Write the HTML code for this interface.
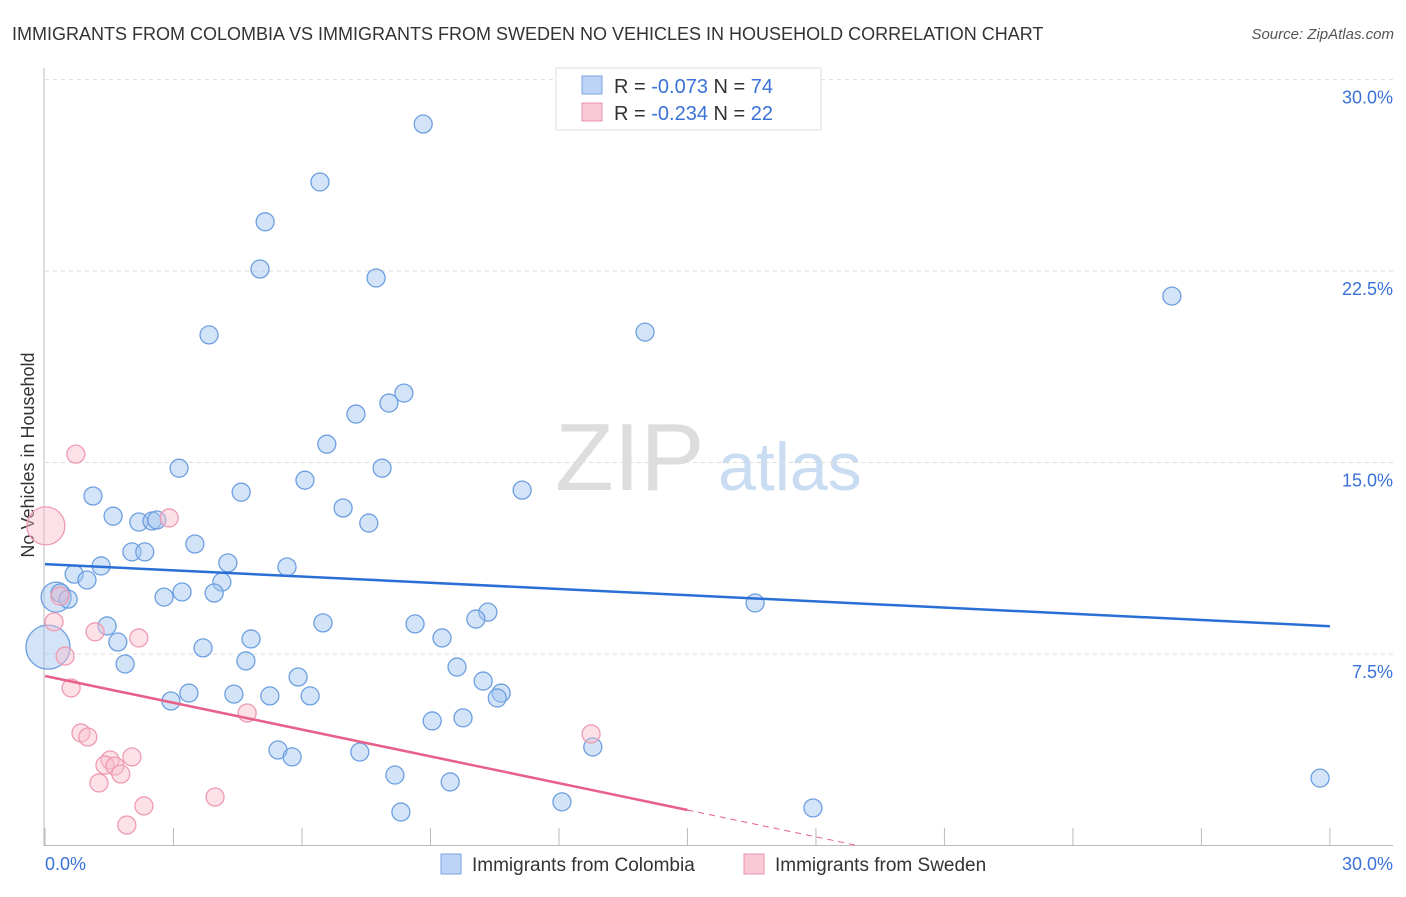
<!DOCTYPE html>
<html><head><meta charset="utf-8"><style>
body{margin:0;background:#fff;font-family:"Liberation Sans",sans-serif}
svg text{font-family:"Liberation Sans",sans-serif}
</style></head><body>
<svg id="c" width="1406" height="892">
<text x="12" y="40" font-size="18" fill="#333">IMMIGRANTS FROM COLOMBIA VS IMMIGRANTS FROM SWEDEN NO VEHICLES IN HOUSEHOLD CORRELATION CHART</text>
<text x="1394" y="39" font-size="15" fill="#555" font-style="italic" text-anchor="end">Source: ZipAtlas.com</text>
<text x="555" y="490" font-size="96" fill="#ddd" font-family="Liberation Serif">ZIP</text>
<text x="718" y="490" font-size="68" fill="#c9dcf2">atlas</text>
<text x="34" y="455" font-size="18" fill="#333" text-anchor="middle" transform="rotate(-90 34 455)">No Vehicles in Household</text>
<g id="grid"></g><g id="pts"></g><g id="lines"></g>
<g>
<rect x="556" y="68" width="265" height="62" fill="#fff" stroke="#ddd"/>
<rect x="582" y="76" width="20" height="18" fill="#bcd4f5" stroke="#7aa6e0"/>
<rect x="582" y="103" width="20" height="18" fill="#f9c9d6" stroke="#eb94ac"/>
<text x="614" y="93" font-size="20" fill="#333">R = <tspan fill="#3a72d8">-0.073</tspan>    N = <tspan fill="#3a72d8">74</tspan></text>
<text x="614" y="120" font-size="20" fill="#333">R = <tspan fill="#3a72d8">-0.234</tspan>    N = <tspan fill="#3a72d8">22</tspan></text>
</g>
<g>
<rect x="441" y="854" width="20" height="20" fill="#bcd4f5" stroke="#7aa6e0"/>
<text x="472" y="871" font-size="19" fill="#333">Immigrants from Colombia</text>
<rect x="744" y="854" width="20" height="20" fill="#f9c9d6" stroke="#eb94ac"/>
<text x="775" y="871" font-size="19" fill="#333">Immigrants from Sweden</text>
</g>
</svg>
<script>
const yTicks=[7.5,15,22.5,30];
const yTickLabels=["7.5%","15.0%","22.5%","30.0%"];
const blueX=[8.83,6.42,5.14,5.02,7.73,3.83,14.01,26.31,8.38,8.03,7.26,6.58,3.13,7.87,6.07,11.14,4.58,1.12,6.96,1.59,2.19,2.5,2.61,7.56,3.5,2.03,2.33,4.27,1.31,5.65,0.68,0.98,4.13,3.2,2.78,3.95,0.26,0.35,0.54,10.34,16.58,10.06,1.45,6.49,8.64,9.27,1.7,4.81,0.07,3.69,1.87,4.69,9.62,5.91,10.23,10.65,10.56,3.36,4.41,5.25,6.19,2.94,9.76,9.04,5.44,5.77,7.35,12.79,8.17,9.46,29.77,12.07,17.93,8.31];
const blueY=[28.26,25.99,24.43,22.58,22.23,20.0,20.11,21.52,17.72,17.33,16.9,15.72,14.78,14.78,14.31,13.92,13.84,13.69,13.22,12.9,12.67,12.71,12.75,12.63,11.81,11.5,11.5,11.07,10.95,10.91,10.63,10.4,10.32,9.93,9.73,9.89,9.73,9.89,9.65,9.14,9.5,8.87,8.6,8.72,8.68,8.13,7.97,8.09,7.77,7.74,7.11,7.23,6.99,6.6,6.44,5.97,5.78,5.97,5.93,5.86,5.86,5.66,5.0,4.88,3.74,3.47,3.66,3.86,2.76,2.49,2.64,1.71,1.47,1.31];
const pinkX=[0.72,0.02,2.9,0.21,1.17,2.19,0.47,0.35,0.61,4.72,0.84,1.0,12.75,1.52,2.03,1.4,1.63,1.77,1.26,3.97,2.31,1.91];
const pinkY=[15.33,12.52,12.83,8.76,8.37,8.13,7.42,9.77,6.17,5.19,4.41,4.25,4.37,3.35,3.47,3.15,3.11,2.8,2.45,1.9,1.55,0.8];
const blueTrend=[11.02,8.59];
const pinkTrend=[6.64,1.39];
const X=v=>45+v*42.83, Y=v=>845.5-v*25.53;
const NS="http://www.w3.org/2000/svg";
function mk(t,a,p){const e=document.createElementNS(NS,t);for(const k in a)e.setAttribute(k,a[k]);p.appendChild(e);return e;}
const g=document.getElementById('grid');
yTicks.forEach((v,i)=>{
 const l=mk('line',{x1:45,x2:1393,y1:Y(v),y2:Y(v),stroke:'#ddd','stroke-dasharray':'4,4'},g);
 
 
 const t=mk('text',{x:1393,y:Y(v)+24,'font-size':18,fill:'#3a72d8','text-anchor':'end'},g);t.textContent=yTickLabels[i];
 
 
});
mk('line',{x1:44,x2:44,y1:68,y2:846,stroke:'#bbb'},g);
mk('line',{x1:44,x2:1393,y1:845.5,y2:845.5,stroke:'#bbb'},g);
for(let i=0;i<=10;i++){const l=mk('line',{x1:X(i*3),x2:X(i*3),y1:828,y2:845,stroke:'#bbb'},g);
 
 }
let t=mk('text',{x:45,y:870,'font-size':18,fill:'#3a72d8'},g);t.textContent='0.0%';


t=mk('text',{x:1393,y:870,'font-size':18,fill:'#3a72d8','text-anchor':'end'},g);t.textContent='30.0%';


const p=document.getElementById('pts');
const bigB={36:15,48:22}, bigP={1:19};
blueX.forEach((v,i)=>{const c=mk('circle',{cx:X(v),cy:Y(blueY[i]),r:bigB[i]||9,fill:'rgba(160,195,240,0.45)',stroke:'#6d9fe0','stroke-width':1.3},p);
 
 });
pinkX.forEach((v,i)=>{const c=mk('circle',{cx:X(v),cy:Y(pinkY[i]),r:bigP[i]||9,fill:'rgba(248,190,205,0.45)',stroke:'#ee9ab2','stroke-width':1.3},p);
 
 });
const L=document.getElementById('lines');
let l=mk('line',{x1:X(0),y1:Y(blueTrend[0]),x2:X(30),y2:Y(blueTrend[1]),stroke:'#2a6fd6','stroke-width':2.5},L);


const ps=(pinkTrend[1]-pinkTrend[0])/15;
l=mk('line',{x1:X(0),y1:Y(pinkTrend[0]),x2:X(15),y2:Y(pinkTrend[1]),stroke:'#e8608a','stroke-width':2.5},L);


const xe=-pinkTrend[0]/ps;
l=mk('line',{x1:X(15),y1:Y(pinkTrend[1]),x2:X(xe),y2:Y(0),stroke:'#e8608a','stroke-width':1,'stroke-dasharray':'6,5'},L);


</script>
</body></html>
